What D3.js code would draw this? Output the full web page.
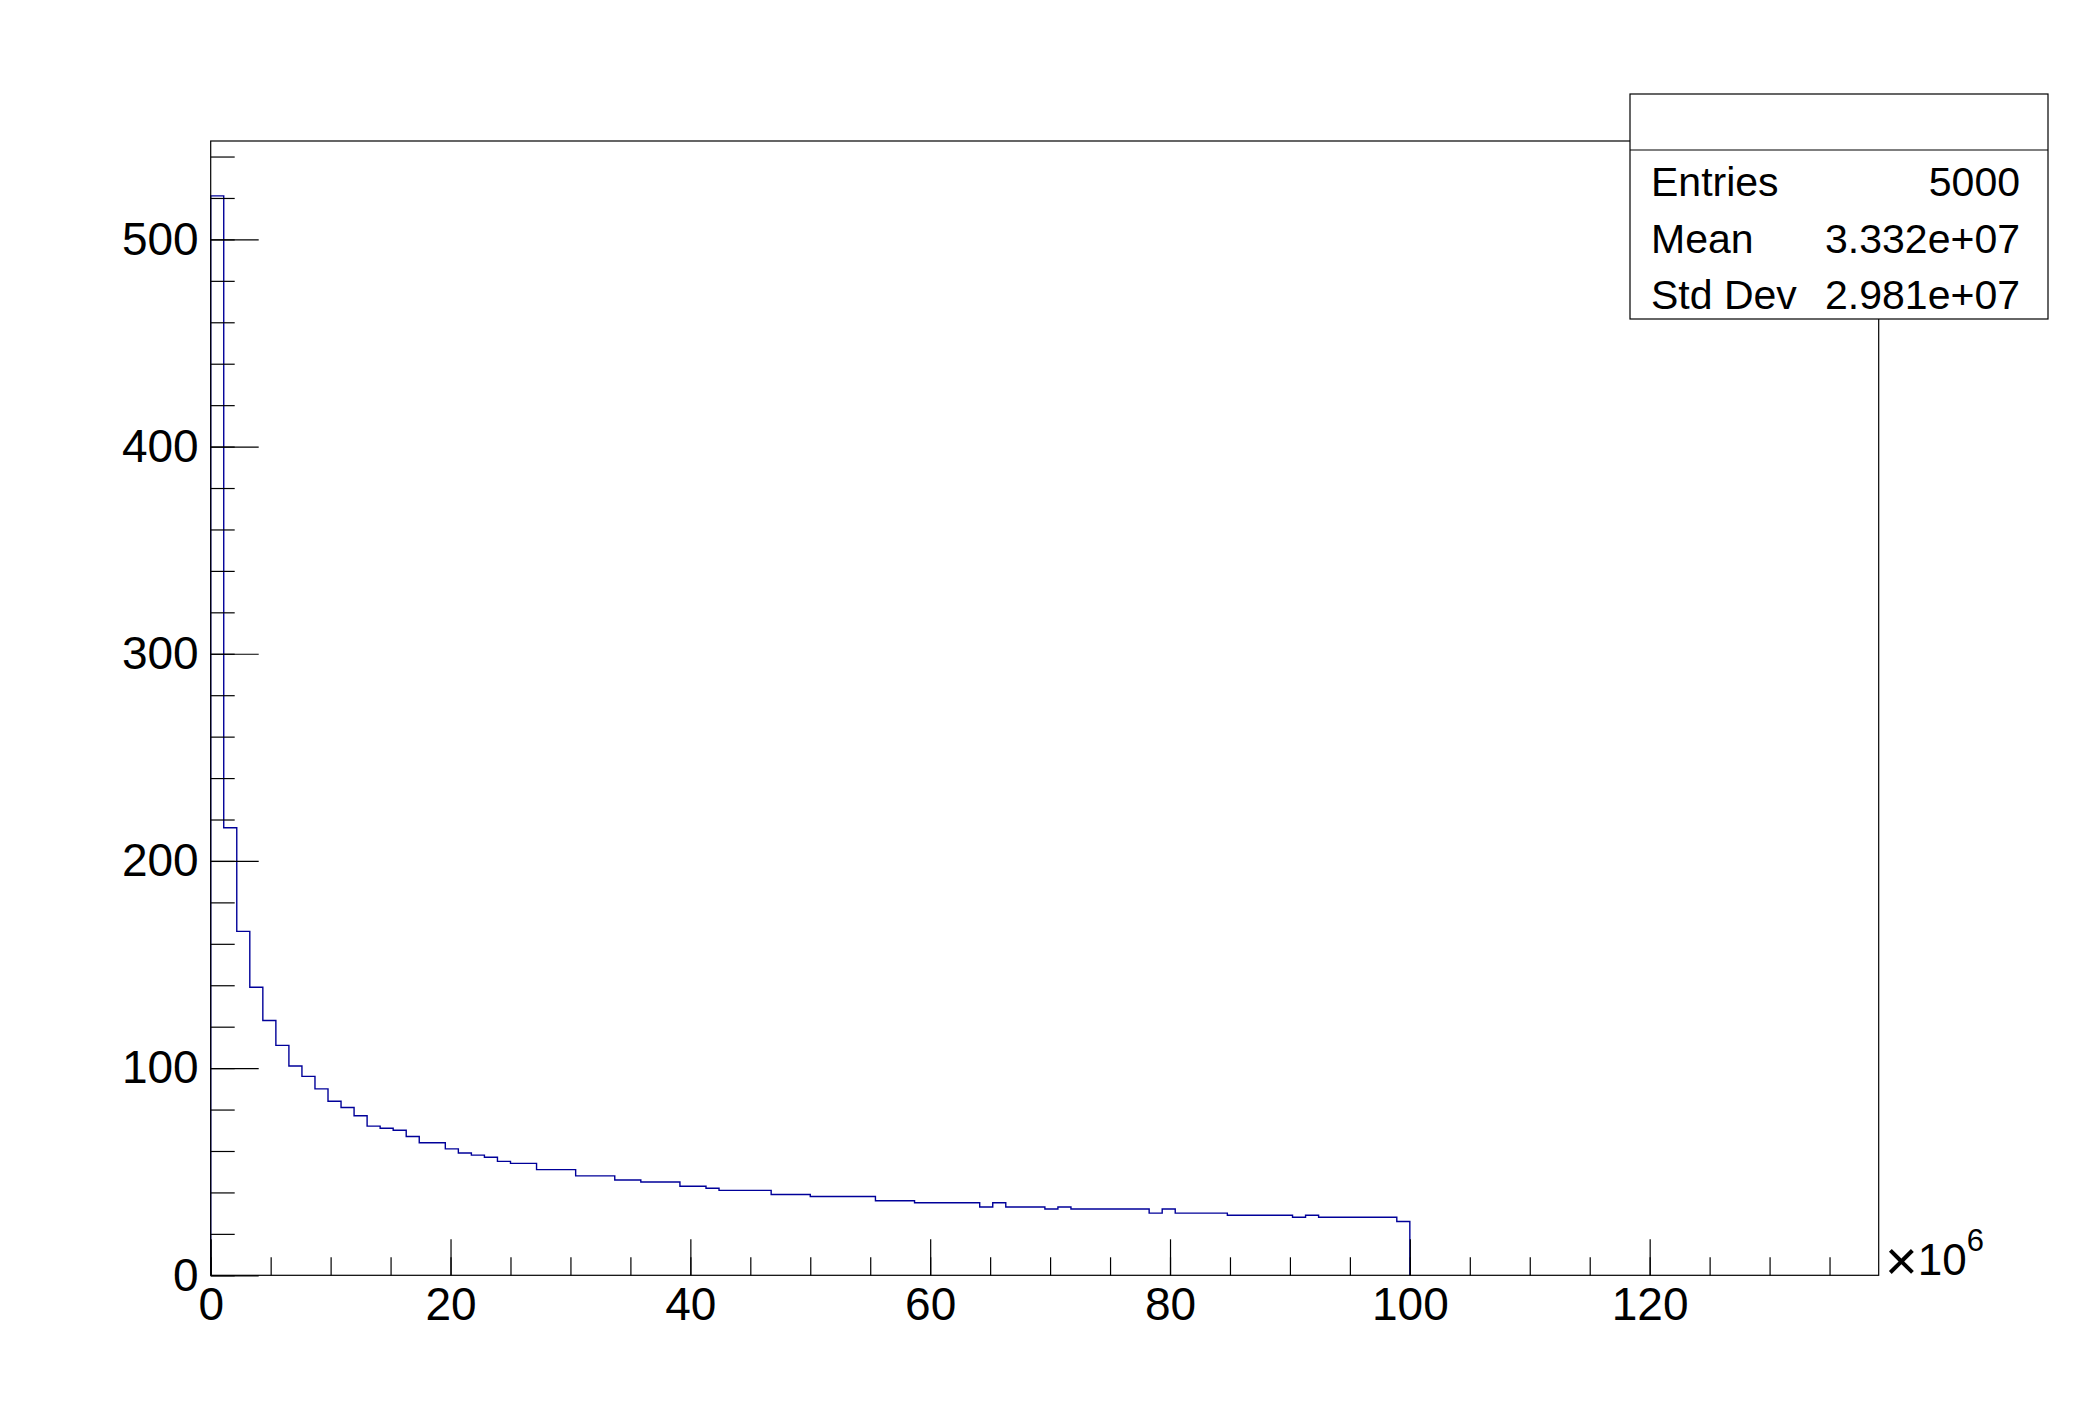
<!DOCTYPE html>
<html>
<head>
<meta charset="utf-8">
<script src="https://cdn.jsdelivr.net/npm/d3@7"></script>
<style>
  body { margin: 0; background: #fff; }
  svg text { font-family: "Liberation Sans", Arial, Helvetica, sans-serif; fill: #000; }
</style>
</head>
<body>
<div id="graph"></div>
<script>
const width = 2088;
const height = 1416;

// Histogram contents (bin width in units of 10^6)
const binWidth = 100 / 92;
const counts = [
  521, 216, 166, 139, 123, 111, 101, 96, 90, 84,
  81, 77, 72, 71, 70, 67, 64, 64, 61, 59,
  58, 57, 55, 54, 54, 51, 51, 51, 48, 48,
  48, 46, 46, 45, 45, 45, 43, 43, 42, 41,
  41, 41, 41, 39, 39, 39, 38, 38, 38, 38,
  38, 36, 36, 36, 35, 35, 35, 35, 35, 33,
  35, 33, 33, 33, 32, 33, 32, 32, 32, 32,
  32, 32, 30, 32, 30, 30, 30, 30, 29, 29,
  29, 29, 29, 28, 29, 28, 28, 28, 28, 28,
  28, 26
];
const xMajorTicks = [0, 20, 40, 60, 80, 100, 120];
const xMinorTicks = d3.range(0, 139, 5);
const yMajorTicks = [0, 100, 200, 300, 400, 500];
const yMinorTicks = d3.range(0, 547, 20);
const xDomain = [0, 139.1];
const yDomain = [0, 547.5];
const statNames = ['Entries', 'Mean', 'Std Dev'];
const statValues = ['5000', '3.332e+07', '2.981e+07'];

// Frame
const frame = { left: 210.7, right: 1878.7, top: 141, bottom: 1275.3 };

const svg = d3.select('#graph')
  .append('svg')
  .attr('width', width)
  .attr('height', height)
  .style('display', 'block');

svg.append('rect')
  .attr('width', width)
  .attr('height', height)
  .attr('fill', '#fff');

const xScale = d3.scaleLinear().domain(xDomain).range([frame.left, frame.right]);
const yScale = d3.scaleLinear().domain(yDomain).range([frame.bottom, frame.top]);

// Histogram outline
const pts = [[0, 0]];
counts.forEach((c, i) => {
  pts.push([i * binWidth, c]);
  pts.push([(i + 1) * binWidth, c]);
});
pts.push([counts.length * binWidth, 0]);

svg.append('path')
  .datum(pts)
  .attr('fill', 'none')
  .attr('stroke', '#000099')
  .attr('stroke-width', 1.4)
  .attr('d', d3.line()
    .x(d => xScale(d[0]))
    .y(d => yScale(d[1])));

// Frame box
svg.append('rect')
  .attr('x', frame.left)
  .attr('y', frame.top)
  .attr('width', frame.right - frame.left)
  .attr('height', frame.bottom - frame.top)
  .attr('fill', 'none')
  .attr('stroke', '#000')
  .attr('stroke-width', 1.2);

// X axis: minor ticks, then major ticks with labels
const xMinor = svg.append('g')
  .attr('transform', `translate(0, ${frame.bottom})`)
  .call(d3.axisBottom(xScale).tickValues(xMinorTicks).tickSizeInner(-18).tickSizeOuter(0).tickFormat(''));
const xMajor = svg.append('g')
  .attr('transform', `translate(0, ${frame.bottom})`)
  .call(d3.axisBottom(xScale).tickValues(xMajorTicks).tickSizeInner(-36).tickSizeOuter(0).tickPadding(12));

// Y axis
const yMinor = svg.append('g')
  .attr('transform', `translate(${frame.left}, 0)`)
  .call(d3.axisLeft(yScale).tickValues(yMinorTicks).tickSizeInner(-24).tickSizeOuter(0).tickFormat(''));
const yMajor = svg.append('g')
  .attr('transform', `translate(${frame.left}, 0)`)
  .call(d3.axisLeft(yScale).tickValues(yMajorTicks).tickSizeInner(-48).tickSizeOuter(0).tickPadding(12));

[xMinor, xMajor, yMinor, yMajor].forEach(g => {
  g.select('.domain').remove();
  g.selectAll('line').attr('stroke', '#000').attr('stroke-width', 1.2);
  g.selectAll('text')
    .attr('font-size', 46)
    .attr('font-family', '"Liberation Sans", Arial, Helvetica, sans-serif')
    .attr('fill', '#000');
});

// Axis exponent label
const expo = svg.append('text')
  .attr('x', 1885)
  .attr('y', frame.bottom)
  .attr('font-size', 44);
expo.append('tspan')
  .attr('font-size', 56)
  .attr('dy', 5)
  .text('×');
expo.append('tspan')
  .attr('dy', -5)
  .text('10');
expo.append('tspan')
  .attr('font-size', 31)
  .attr('dy', -24)
  .text('6');

// Stats box
const box = { left: 1630, right: 2048, top: 94, mid: 150, bottom: 319 };
svg.append('rect')
  .attr('x', box.left)
  .attr('y', box.top)
  .attr('width', box.right - box.left)
  .attr('height', box.bottom - box.top)
  .attr('fill', '#fff')
  .attr('stroke', '#000')
  .attr('stroke-width', 1.2);
svg.append('line')
  .attr('x1', box.left)
  .attr('x2', box.right)
  .attr('y1', box.mid)
  .attr('y2', box.mid)
  .attr('stroke', '#000')
  .attr('stroke-width', 1.2);

const rowH = (box.bottom - box.mid) / statNames.length;
statNames.forEach((name, i) => {
  const yb = box.mid + rowH * (i + 0.5) + 18;
  svg.append('text')
    .attr('x', box.left + 21)
    .attr('y', yb)
    .attr('font-size', 41)
    .text(name);
  svg.append('text')
    .attr('x', box.right - 28)
    .attr('y', yb)
    .attr('font-size', 41)
    .attr('text-anchor', 'end')
    .text(statValues[i]);
});
</script>
</body>
</html>
